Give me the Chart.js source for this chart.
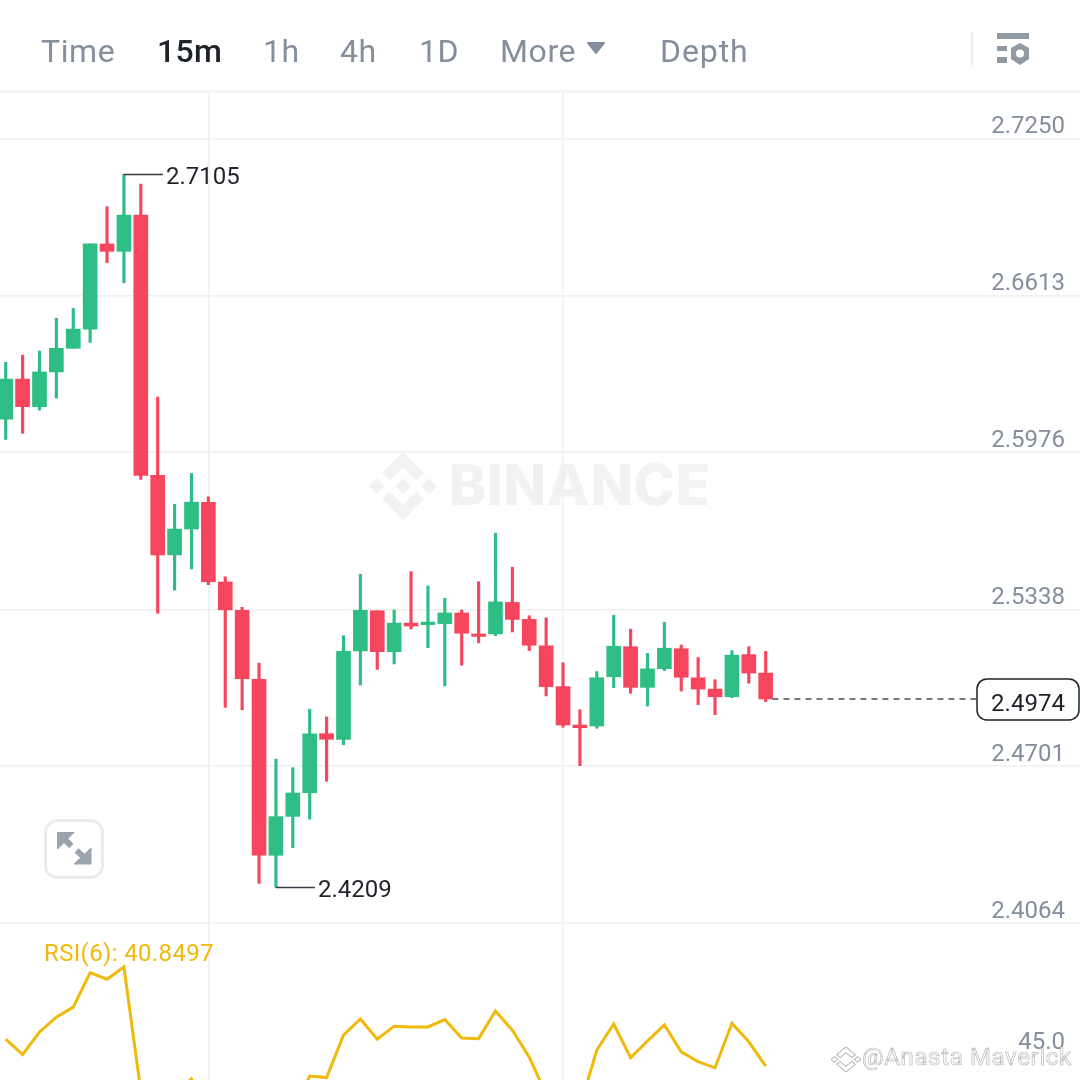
<!DOCTYPE html>
<html>
<head>
<meta charset="utf-8">
<title>Binance 15m</title>
<script src="https://cdn.jsdelivr.net/npm/chart.js@4/dist/chart.umd.min.js"></script>
<style>
  html, body { margin: 0; padding: 0; background: #fff; }
  #wrap { position: relative; width: 1080px; height: 1080px; overflow: hidden; font-family: Roboto, sans-serif; }
  #chart { position: absolute; left: 0; top: 0; }
  .tab { position: absolute; top: 30px; font-size: 32px; line-height: 42px; color: #848e9c; letter-spacing: 0.6px; white-space: nowrap; }
  .tab.active { color: #1e2329; font-weight: 500; letter-spacing: 0.3px; }
  #headerLine { position: absolute; left: 0; top: 90px; width: 1080px; height: 3px; background: #f5f5f5; }
  #divider { position: absolute; left: 971px; top: 32px; width: 2px; height: 33px; background: #eaecef; }
  #wmText { position: absolute; left: 449px; top: 450px; font-family: Inter, sans-serif; font-size: 56px; line-height: 70px; font-weight: 800; color: #f1f2f3; letter-spacing: 0.5px; }
  #rsiLabel { position: absolute; left: 44px; top: 939px; font-size: 24px; line-height: 28px; color: #f0b90b; letter-spacing: 0.35px; }
  #credit { position: absolute; left: 862px; top: 1043px; font-size: 24px; line-height: 28px; color: #fff; -webkit-text-stroke: 0.7px #b5b8bc; letter-spacing: 0.65px; white-space: nowrap; }
  svg { position: absolute; }
</style>
</head>
<body>
<div id="wrap">
  <svg style="left:369px;top:452px" width="68" height="68" viewBox="0 0 126.61 126.61">
    <path fill="#f1f2f3" d="M38.73 53.2l24.59-24.58 24.6 24.6 14.3-14.31L63.32 0 24.43 38.9zM0 63.31l14.3-14.31 14.31 14.31-14.31 14.3zM38.73 73.41l24.59 24.59 24.6-24.6 14.31 14.29-38.9 38.91-38.91-38.88zM98 63.31l14.3-14.31 14.31 14.3-14.31 14.32zM77.83 63.3l-14.51-14.52-10.73 10.73-1.24 1.23-2.54 2.54 14.51 14.5 14.51-14.47z"/>
  </svg>
  <div id="wmText">BINANCE</div>
  <canvas id="chart" width="1080" height="1080"></canvas>

  <div class="tab" style="left:41px">Time</div>
  <div class="tab active" style="left:157px">15m</div>
  <div class="tab" style="left:263px">1h</div>
  <div class="tab" style="left:340px">4h</div>
  <div class="tab" style="left:419px">1D</div>
  <div class="tab" style="left:500px">More</div>
  <svg style="left:586px;top:41px" width="20" height="14"><path d="M2 2H18L10 12Z" fill="#848e9c" stroke="#848e9c" stroke-width="2" stroke-linejoin="round"/></svg>
  <div class="tab" style="left:660px;letter-spacing:0.9px">Depth</div>
  <div id="divider"></div>
  <svg style="left:996px;top:32px" width="36" height="36" fill="#929aa5">
    <rect x="1" y="1" width="32" height="6"/>
    <rect x="1" y="14" width="10" height="5"/>
    <rect x="1" y="25" width="10" height="6"/>
    <path fill-rule="evenodd" d="M24 11L33 16V27L24 33L15 27V16ZM24 17.5A4 4 0 1 0 24 25.5A4 4 0 1 0 24 17.5Z"/>
  </svg>
  <div id="headerLine"></div>

  <svg style="left:43px;top:818px" width="62" height="62">
    <rect x="2.5" y="2.5" width="57" height="57" rx="12" fill="#fff" stroke="#eaecef" stroke-width="3"/>
    <g fill="#9aa3ae" stroke="#9aa3ae">
      <path d="M14.5 14.5H31L14.5 31Z"/>
      <path d="M48 46H31L48 30Z"/>
    </g>
    <path d="M20 20L28.5 28M33.5 32.5L42 40" stroke="#9aa3ae" stroke-width="6"/>
  </svg>

  <div id="rsiLabel">RSI(6): 40.8497</div>
  <svg style="left:831px;top:1047px" width="30" height="25" viewBox="0 0 126.61 126.61" preserveAspectRatio="none">
    <path fill="#fff" stroke="#b5b8bc" stroke-width="5" d="M38.73 53.2l24.59-24.58 24.6 24.6 14.3-14.31L63.32 0 24.43 38.9zM0 63.31l14.3-14.31 14.31 14.31-14.31 14.3zM38.73 73.41l24.59 24.59 24.6-24.6 14.31 14.29-38.9 38.91-38.91-38.88zM98 63.31l14.3-14.31 14.31 14.3-14.31 14.32z"/>
  </svg>
  <div id="credit">@Anasta Maverick</div>
</div>

<script>
const opens = [2.6110, 2.6273, 2.6161, 2.6302, 2.6398, 2.6476, 2.6822, 2.6792, 2.6939, 2.5882, 2.5559, 2.5664, 2.5773, 2.5449, 2.5334, 2.5054,
  2.4339, 2.4497, 2.4593, 2.4833, 2.4810, 2.5169, 2.5332, 2.5166, 2.5282, 2.5276, 2.5280, 2.5323, 2.5238, 2.5238, 2.5366, 2.5297,
  2.5190, 2.5024, 2.4868, 2.4864, 2.5064, 2.5186, 2.5021, 2.5097, 2.5178, 2.5060, 2.5014, 2.4983, 2.5154, 2.5079];
const highs = [2.6341, 2.6370, 2.6387, 2.6520, 2.6560, 2.6822, 2.6973, 2.7105, 2.7065, 2.6200, 2.5764, 2.5890, 2.5795, 2.5470, 2.5346, 2.5119,
  2.4730, 2.4695, 2.4932, 2.4901, 2.5231, 2.5480, 2.5332, 2.5335, 2.5491, 2.5433, 2.5383, 2.5335, 2.5450, 2.5647, 2.5509, 2.5312,
  2.5303, 2.5121, 2.4930, 2.5085, 2.5314, 2.5257, 2.5159, 2.5285, 2.5193, 2.5142, 2.5052, 2.5170, 2.5186, 2.5167];
const lows = [2.6028, 2.6053, 2.6147, 2.6196, 2.6398, 2.6422, 2.6746, 2.6664, 2.5866, 2.5322, 2.5416, 2.5502, 2.5438, 2.4940, 2.4930, 2.4225,
  2.4209, 2.4370, 2.4486, 2.4640, 2.4788, 2.5031, 2.5094, 2.5116, 2.5258, 2.5182, 2.5027, 2.5111, 2.5202, 2.5231, 2.5246, 2.5170,
  2.4986, 2.4859, 2.4703, 2.4855, 2.5020, 2.4997, 2.4945, 2.5089, 2.5006, 2.4951, 2.4910, 2.4979, 2.5038, 2.4963];
const closes = [2.6273, 2.6161, 2.6302, 2.6398, 2.6476, 2.6822, 2.6792, 2.6939, 2.5882, 2.5559, 2.5664, 2.5773, 2.5450, 2.5336, 2.5056, 2.4339,
  2.4496, 2.4592, 2.4832, 2.4810, 2.5167, 2.5334, 2.5166, 2.5282, 2.5270, 2.5286, 2.5323, 2.5241, 2.5228, 2.5368, 2.5297, 2.5192,
  2.5024, 2.4868, 2.4857, 2.5060, 2.5188, 2.5021, 2.5096, 2.5180, 2.5062, 2.5014, 2.4983, 2.5152, 2.5079, 2.4974];
const rsiValues = [51.0, 45.2, 53.7, 59.3, 63.1, 76.1, 73.6, 78.2, 31.4, 26.0, 30.0, 36.0, 24.0, 21.0, 18.0, 11.0,
  15.0, 22.0, 37.1, 36.5, 52.5, 58.6, 51.0, 55.9, 55.6, 55.6, 58.4, 51.4, 51.2, 61.6, 54.4, 44.2,
  30.3, 24.0, 25.4, 46.9, 56.7, 44.0, 50.3, 56.4, 46.2, 42.5, 40.2, 57.0, 50.0, 40.85];
const priceTicks = [2.7250, 2.6613, 2.5976, 2.5338, 2.4701, 2.4064];
const rsiTicks = [45.0];
const timeGrid = [12, 33];
const lastPrice = 2.4974;
const highIndex = 7;
const lowIndex = 16;

const UP = "#2ebd85";
const DOWN = "#f6465d";
const GRID = "#eef0f2";
const candleColors = closes.map((c, i) => (c >= opens[i] ? UP : DOWN));
const indexes = closes.map((c, i) => i);

// high / low / last price labels, placed from the scales
const markers = {
  id: "markers",
  afterDatasetsDraw(chart) {
    const { ctx, scales } = chart;
    const x = scales.x, y = scales.y;
    ctx.save();
    ctx.font = "24px Roboto";
    ctx.textBaseline = "middle";
    ctx.textAlign = "left";

    [[highIndex, highs[highIndex]], [lowIndex, lows[lowIndex]]].forEach(([i, v]) => {
      const px = x.getPixelForValue(i);
      const py = Math.round(y.getPixelForValue(v)) + 0.5;
      ctx.strokeStyle = "#363c45";
      ctx.lineWidth = 1.5;
      ctx.beginPath();
      ctx.moveTo(px, py);
      ctx.lineTo(px + 39, py);
      ctx.stroke();
      ctx.fillStyle = "#1e2329";
      ctx.fillText(v.toFixed(4), px + 42, py + 3);
    });

    const py = y.getPixelForValue(lastPrice);
    ctx.beginPath();
    ctx.roundRect(977, py - 20, 102, 41, 10);
    ctx.fillStyle = "#fff";
    ctx.fill();
    ctx.strokeStyle = "#1e2329";
    ctx.lineWidth = 1.5;
    ctx.stroke();
    ctx.fillStyle = "#1e2329";
    ctx.textAlign = "center";
    ctx.fillText(lastPrice.toFixed(4), 1028, py + 6);
    ctx.restore();
  },
};

new Chart(document.getElementById("chart"), {
  type: "bar",
  data: {
    datasets: [
      {
        label: "Wick",
        data: indexes.map((i) => ({ x: i, y: [lows[i], highs[i]] })),
        backgroundColor: candleColors,
        barThickness: 2.5,
        grouped: false,
        yAxisID: "y",
        order: 3,
      },
      {
        label: "Body",
        data: indexes.map((i) => ({ x: i, y: [opens[i], closes[i]] })),
        backgroundColor: candleColors,
        barThickness: 14,
        grouped: false,
        yAxisID: "y",
        order: 2,
      },
      {
        type: "line",
        label: "Last price",
        data: [{ x: 45.4, y: lastPrice }, { x: 57.5, y: lastPrice }],
        borderColor: "#474d57",
        borderWidth: 1.5,
        borderDash: [6, 5],
        pointRadius: 0,
        yAxisID: "y",
        order: 1,
      },
      {
        type: "line",
        label: "RSI(6)",
        data: indexes.map((i) => ({ x: i, y: rsiValues[i] })),
        borderColor: "#f0b90b",
        borderWidth: 3,
        pointRadius: 0,
        tension: 0,
        yAxisID: "yRsi",
        order: 0,
      },
    ],
  },
  options: {
    responsive: false,
    animation: false,
    devicePixelRatio: 1,
    layout: { padding: { top: 92, left: 0, right: 0, bottom: 0 } },
    plugins: { legend: { display: false }, tooltip: { enabled: false } },
    scales: {
      x: {
        type: "linear",
        offset: false,
        min: -0.3375,
        max: 63.61,
        afterBuildTicks: (axis) => { axis.ticks = timeGrid.map((value) => ({ value })); },
        grid: { color: GRID, lineWidth: 1.5, drawTicks: false, offset: false },
        border: { display: false },
        ticks: { display: false },
      },
      y: {
        position: "right",
        stack: "panes",
        stackWeight: 831,
        min: 2.4064,
        max: 2.7439,
        afterBuildTicks: (axis) => { axis.ticks = priceTicks.map((value) => ({ value })); },
        grid: { color: GRID, lineWidth: 1.5, drawTicks: false },
        border: { display: false },
        ticks: {
          mirror: true,
          padding: -15,
          labelOffset: -11.5,
          color: "#848e9c",
          font: { family: "Roboto", size: 24 },
          callback: (v) => v.toFixed(4),
        },
      },
      yRsi: {
        position: "right",
        stack: "panes",
        stackWeight: 157,
        min: 35.6,
        max: 94.8,
        afterBuildTicks: (axis) => { axis.ticks = rsiTicks.map((value) => ({ value })); },
        grid: { display: false },
        border: { display: false },
        ticks: {
          mirror: true,
          padding: -15,
          labelOffset: -12,
          color: "#848e9c",
          font: { family: "Roboto", size: 24 },
          callback: (v) => v.toFixed(1),
        },
      },
    },
  },
  plugins: [markers],
});
</script>
</body>
</html>
